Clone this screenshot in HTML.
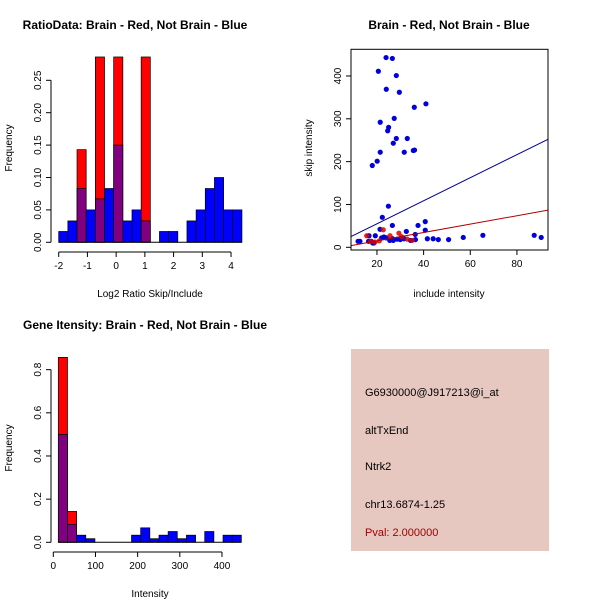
<!DOCTYPE html>
<html><head><meta charset="utf-8"><style>
html,body{margin:0;padding:0;background:#fff}
svg{display:block;font-family:"Liberation Sans",sans-serif}
</style></head><body>
<svg id="s" width="600" height="600" xmlns="http://www.w3.org/2000/svg">
<rect width="600" height="600" fill="#fff"/>
<g id="p1">
<text x="135" y="29" font-size="12" font-weight="bold" text-anchor="middle">RatioData: Brain - Red, Not Brain - Blue</text>
<text x="150" y="297" font-size="10" text-anchor="middle">Log2 Ratio Skip/Include</text>
<text transform="translate(12,148) rotate(-90)" font-size="10" text-anchor="middle">Frequency</text>
</g>
<g id="p2">
<text x="449" y="29" font-size="12" font-weight="bold" text-anchor="middle">Brain - Red, Not Brain - Blue</text>
<text x="449" y="297" font-size="10" text-anchor="middle">include intensity</text>
<text transform="translate(312,148) rotate(-90)" font-size="10" text-anchor="middle">skip intensity</text>
</g>
<g id="p3">
<text x="145" y="329" font-size="12" font-weight="bold" text-anchor="middle">Gene Itensity: Brain - Red, Not Brain - Blue</text>
<text x="150" y="597" font-size="10" text-anchor="middle">Intensity</text>
<text transform="translate(12,448) rotate(-90)" font-size="10" text-anchor="middle">Frequency</text>
</g>
<g>
<rect x="351" y="349" width="198" height="202" fill="#e6c8c1"/>
<text x="365" y="396" font-size="11">G6930000@J917213@i_at</text>
<text x="365" y="434" font-size="11">altTxEnd</text>
<text x="365" y="470" font-size="11">Ntrk2</text>
<text x="365" y="508" font-size="11">chr13.6874-1.25</text>
<text x="365" y="536" font-size="11" fill="#a00000">Pval: 2.000000</text>
</g>
</svg>
<script>
// Ratio histogram data
const ratioBinStart = -2.0;
const ratioBinWidth = 0.319;
const ratioBlue = [0.0167,0.033,0.083,0.05,0.067,0.083,0.15,0.033,0.05,0.033,0,0.0167,0.0167,0,0.033,0.05,0.083,0.1,0.05,0.05];
const ratioRed = [0,0,0.143,0,0.286,0,0.286,0,0,0.286,0,0,0,0,0,0,0,0,0,0];
const ratioXTicks = [-2,-1,0,1,2,3,4];
const ratioYTicks = [0,0.05,0.10,0.15,0.20,0.25];
const ratioYLabels = ["0.00","0.05","0.10","0.15","0.20","0.25"];
// Intensity histogram data
const intBinStart = 11.9;
const intBinWidth = 21.7;
const intBlue = [0.5,0.083,0.033,0.0167,0,0,0,0,0.033,0.067,0.0167,0.033,0.05,0.0167,0.033,0,0.05,0,0.033,0.033];
const intRed = [0.857,0.143,0,0,0,0,0,0,0,0,0,0,0,0,0,0,0,0,0,0];
const intXTicks = [0,100,200,300,400];
const intYTicks = [0,0.2,0.4,0.6,0.8];
const intYLabels = ["0.0","0.2","0.4","0.6","0.8"];
// Scatter data
const blueX = [23.9,26.6,20.6,28.3,24,29.6,36,41,21.4,27.4,25,24.6,28.3,33,27,21.4,31.7,35.6,36.1,20.1,18,24.9,22.3,26.6,37.6,40.7,40.7,21.3,32.6,36.4,11.9,12.7,16.6,19.3,16.4,17.6,18.2,18.7,22,24,26.7,28.7,30,31.6,34.4,36.5,41.6,44.1,46.3,50.7,57,65.4,87.4,90.4,25.5,27,23];
const blueY = [443,441,411,401,369,362,327,335,292,301,280,272,254,254,243,222,222,226,227,201,191,96,70,51,51,60,40,42,37,30,14,14,27,27,14,14,10,10,22,22,20,19,18,20,16,18,20,20,18,18,23,28,28,23,16,16,24];
const redX = [15.6,22.7,25.6,29.4,33,35.1,19.1,17.3,21,30.5];
const redY = [27,41,27,33,19,16,12,14,15,25];
const blueFit = [1.1,2.69];
const redFit = [-4.7,0.98];
const scXTicks = [20,40,60,80];
const scYTicks = [0,100,200,300,400];

const NS="http://www.w3.org/2000/svg";
function mk(parent,tag,attrs){const e=document.createElementNS(NS,tag);for(const k in attrs)e.setAttribute(k,attrs[k]);parent.appendChild(e);return e;}

function hist(g,prefix,bx,by,start,w,red,blue,xt,xl,yt,yl,axX,axY,tickLenY){
  for(let i=0;i<red.length;i++){ if(red[i]<=0) continue;
    const x0=bx(start+i*w),x1=bx(start+(i+1)*w);
    const r=mk(g,'rect',{x:x0,y:by(red[i]),width:x1-x0,height:by(0)-by(red[i]),fill:'#ff0000',stroke:'#000','stroke-width':0.7});
    
    
  }
  for(let i=0;i<blue.length;i++){ if(blue[i]<=0) continue;
    const x0=bx(start+i*w),x1=bx(start+(i+1)*w);
    const over=red[i]>0;
    const r=mk(g,'rect',{x:x0,y:by(blue[i]),width:x1-x0,height:by(0)-by(blue[i]),fill:over?'#800080':'#0000ff',stroke:'#000','stroke-width':0.7});
    
    
  }
  // x axis
  mk(g,'line',{x1:bx(xt[0]),x2:bx(xt[xt.length-1]),y1:axY,y2:axY,stroke:'#000'});
  xt.forEach((v,i)=>{mk(g,'line',{x1:bx(v),x2:bx(v),y1:axY,y2:axY+5,stroke:'#000'});
    const t=mk(g,'text',{x:bx(v),y:axY+17,'font-size':10,'text-anchor':'middle'});t.textContent=xl[i];
    
    });
  mk(g,'line',{x1:axX,x2:axX,y1:by(yt[0]),y2:by(yt[yt.length-1]),stroke:'#000'});
  yt.forEach((v,i)=>{mk(g,'line',{x1:axX-5,x2:axX,y1:by(v),y2:by(v),stroke:'#000'});
    const t=mk(g,'text',{transform:`translate(${axX-10},${by(v)}) rotate(-90)`,'font-size':10,'text-anchor':'middle'});t.textContent=yl[i];
    
    });
  // baseline
  mk(g,'line',{x1:bx(start),x2:bx(start+blue.length*w),y1:by(0),y2:by(0),stroke:'#000'});
}
// Plot 1
const b1x=v=>58.7+(v+2)*28.72, b1y=v=>242.3-v*648;
hist(document.getElementById('p1'),'ratio',b1x,b1y,ratioBinStart,ratioBinWidth,ratioRed,ratioBlue,ratioXTicks,ratioXTicks.map(String),ratioYTicks,ratioYLabels,51,252);
// Plot 3
const b3x=v=>53.3+v*0.4217, b3y=v=>542.3-v*215.8;
hist(document.getElementById('p3'),'intensity',b3x,b3y,intBinStart,intBinWidth,intRed,intBlue,intXTicks,intXTicks.map(String),intYTicks,intYLabels,51,552);

// Scatter
(function(){
  const g=document.getElementById('p2');
  const sx=v=>330.3+v*2.333, sy=v=>247.3-v*0.4283;
  const L=351,R=548,T=49.3,B=250;
  mk(g,'clipPath',{id:'clipsc'}); mk(g.lastChild,'rect',{x:L,y:T,width:R-L,height:B-T});
  const pts=mk(g,'g',{'clip-path':'url(#clipsc)'});
  for(let i=0;i<blueX.length;i++){const c=mk(pts,'circle',{cx:sx(blueX[i]),cy:sy(blueY[i]),r:2.6,fill:'#0000dd'});
    
    }
  for(let i=0;i<redX.length;i++){const c=mk(pts,'circle',{cx:sx(redX[i]),cy:sy(redY[i]),r:2.6,fill:'#dd0000','fill-opacity':0.85});
    
    }
  const xa=(L-330.3)/2.333, xb=(R-330.3)/2.333;
  const bl=mk(pts,'line',{x1:sx(xa),y1:sy(blueFit[0]+blueFit[1]*xa),x2:sx(xb),y2:sy(blueFit[0]+blueFit[1]*xb),stroke:'#00008b'});
  
  
  const rl=mk(pts,'line',{x1:sx(xa),y1:sy(redFit[0]+redFit[1]*xa),x2:sx(xb),y2:sy(redFit[0]+redFit[1]*xb),stroke:'#b00000'});
  
  
  const box=mk(g,'rect',{x:L,y:T,width:R-L,height:B-T,fill:'none',stroke:'#000'});
  
  
  scXTicks.forEach(v=>{mk(g,'line',{x1:sx(v),x2:sx(v),y1:B,y2:B+5,stroke:'#000'});
    const t=mk(g,'text',{x:sx(v),y:B+17,'font-size':10,'text-anchor':'middle'});t.textContent=v;
    
    });
  scYTicks.forEach(v=>{mk(g,'line',{x1:L-5,x2:L,y1:sy(v),y2:sy(v),stroke:'#000'});
    const t=mk(g,'text',{transform:`translate(${L-10},${sy(v)}) rotate(-90)`,'font-size':10,'text-anchor':'middle'});t.textContent=v;
    
    });
})();
</script>
</body></html>
